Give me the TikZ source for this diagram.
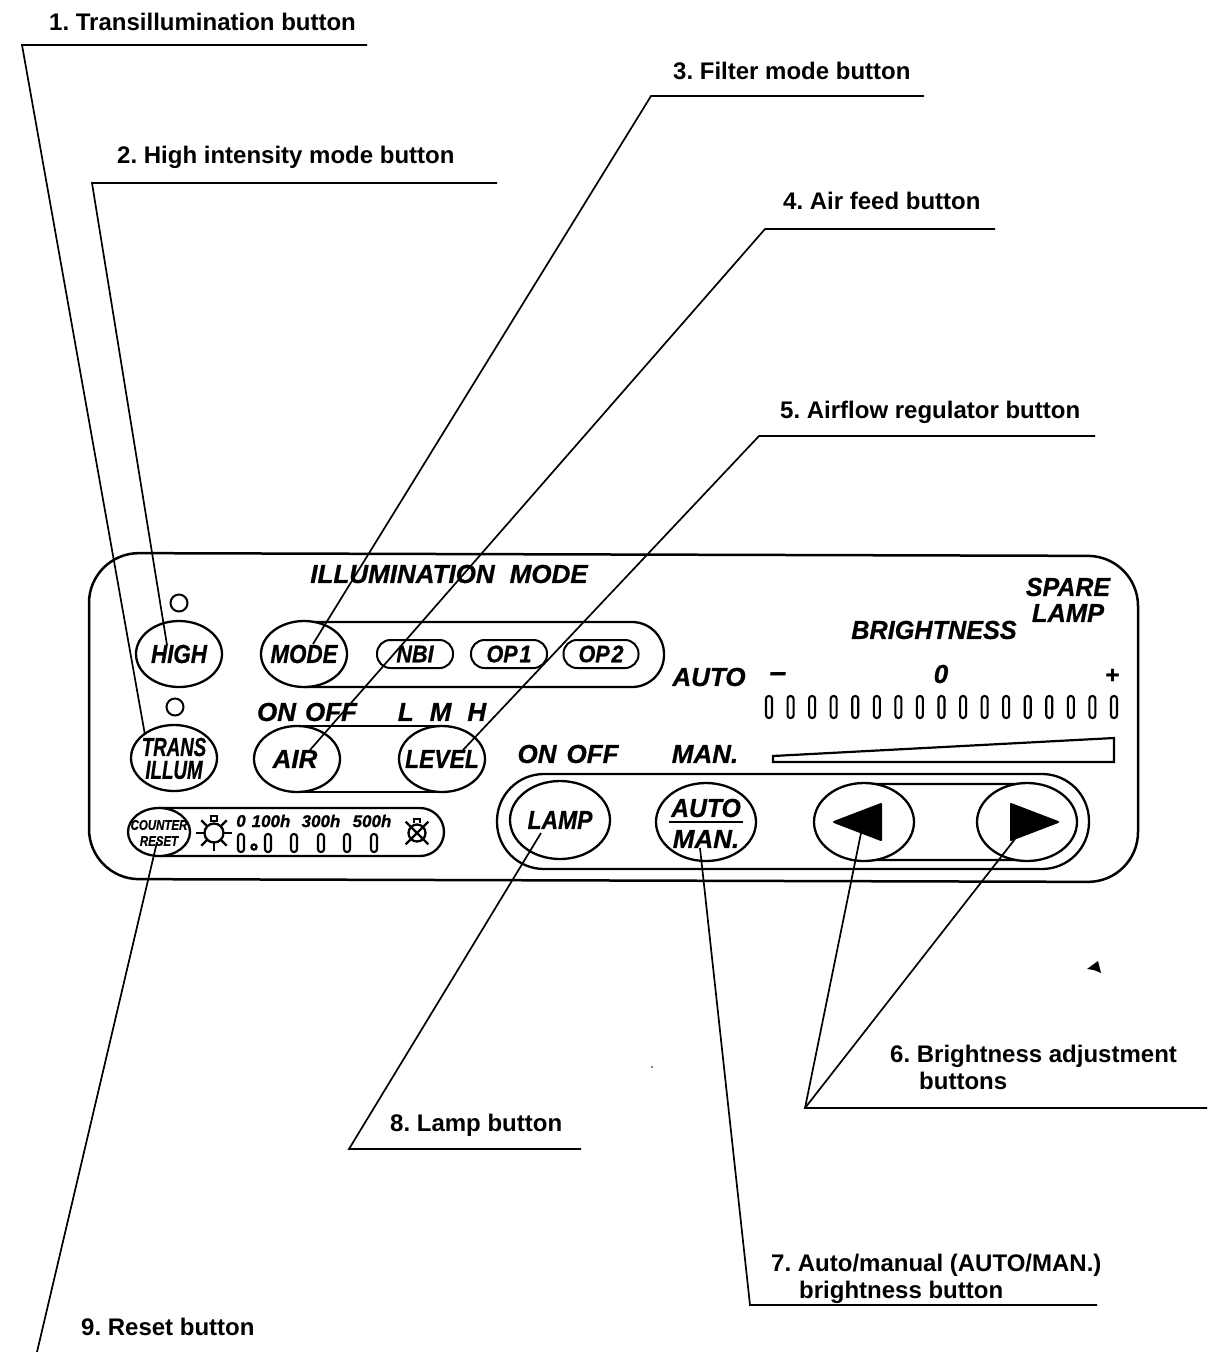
\documentclass[tikz,border=0pt]{standalone}
\usepackage{fontspec}
\usepackage{graphicx}
\setmainfont{Liberation Sans}
\newfontfamily\pnl[BoldItalicFeatures={FakeBold=0.7}]{Liberation Sans}
\frenchspacing
\usetikzlibrary{shapes.geometric,calc}
\newcommand{\fs}[1]{\fontsize{#1}{#1}\selectfont}
\tikzset{
  x=1pt,y=-1pt,
  lead/.style={draw=black,line width=1.7pt},
  outl/.style={draw=black,line width=2.5pt},
  callout/.style={font=\fontsize{24}{26.5}\selectfont\bfseries,inner sep=0pt,align=left},
  ptext/.style={font=\pnl\fs{26}\bfseries\itshape,inner sep=0pt},
  smalltext/.style={font=\pnl\fs{17}\bfseries\itshape,inner sep=0pt},
  btn/.style={ellipse,draw=black,line width=2.3pt,minimum width=86pt,minimum height=66pt,inner sep=0pt,fill=white},
  bigbtn/.style={ellipse,draw=black,line width=2.3pt,minimum width=100pt,minimum height=78pt,inner sep=0pt,fill=white},
  capsule/.style={draw=black,line width=2.3pt,rounded corners=#1},
  led/.style={circle,draw=black,line width=2pt,minimum size=17pt,inner sep=0pt},
  tag/.style={rectangle,draw=black,line width=2pt,rounded corners=13.5pt,minimum height=28pt,inner sep=0pt,font=\pnl\fs{24}\bfseries\itshape},
  bar/.style={draw=black,line width=2.1pt,rounded corners=2.8pt},
  arrowfill/.style={fill=black,draw=black,line width=2pt,line join=round},
  icon/.style={line width=2.3pt}
}
\begin{document}
\begin{tikzpicture}
\useasboundingbox[fill=white] (0,0) rectangle (1221,1352);
% panel
\draw[outl,rounded corners=50pt] (89,553) -- (1138,556) -- (1138,882) -- (89,879) -- cycle;
% capsules
\draw[capsule=32pt] (304,622) -- (664,622) -- (664,687) -- (304,687);
\draw[capsule=24pt] (159,808) -- (444,808) -- (444,856) -- (159,856);
\draw[capsule=47pt] (497,774) rectangle (1089,869);
\draw[capsule=2pt] (864,784) rectangle (1027,860);
\draw[line width=2.3pt] (297,726) -- (442,726) (297,792) -- (442,792);
% buttons
\node[btn] (high) at (179,654) {};
\node[btn] (mode) at (304,654) {};
\node[btn] (trans) at (174,758) {};
\node[btn] (air) at (297,759) {};
\node[btn] (level) at (442,759) {};
\node[ellipse,draw=black,line width=2.3pt,minimum width=62pt,minimum height=48pt,inner sep=0pt,fill=white] (counter) at (159,832) {};
\node[bigbtn] (lamp) at (560,820) {};
\node[bigbtn] (auto) at (706,822) {};
\node[bigbtn] (bl) at (864,822) {};
\node[bigbtn] (br) at (1027,822) {};
\node[ptext] (hight) at (high) {\scalebox{.86}[1]{HIGH}};
\node[ptext] (modet) at (mode) {\scalebox{.86}[1]{MODE}};
\node[ptext] (transt) at (174,747) {\scalebox{.72}[1]{TRANS}};
\node[ptext] (illumt) at (174,770) {\scalebox{.72}[1]{ILLUM}};
\node[ptext] (airt) at (295,759) {AIR};
\node[ptext] (levelt) at (level) {\scalebox{.88}[1]{LEVEL}};
\node[ptext,font=\pnl\fs{14}\bfseries\itshape] (countt) at (159,825) {\scalebox{.82}[1]{COUNTER}};
\node[ptext,font=\pnl\fs{14}\bfseries\itshape] (resett) at (159,841) {\scalebox{.82}[1]{RESET}};
\node[ptext] (lampt) at (lamp) {\scalebox{.88}[1]{LAMP}};
\node[ptext] (autot) at (706,808) {\scalebox{.95}[1]{AUTO}};
\node[ptext] (mant) at (706,839) {MAN.};
\draw[line width=2pt] (669,822) -- (743,822);
\draw[arrowfill] (834,822) -- (881,804) -- (881,840) -- cycle;
\draw[arrowfill] (1011,804) -- (1058,822) -- (1011,840) -- cycle;
% LEDs
\node[led] (led1) at (179,603) {};
\node[led] (led2) at (175,707) {};
% tags
\node[tag,minimum width=76pt] (nbi) at (415,654) {\scalebox{.9}[1]{NBI}};
\node[tag,minimum width=76pt] (op1) at (509,654) {\scalebox{.9}[1]{OP\hspace{2pt}1}};
\node[tag,minimum width=75pt] (op2) at (601,654) {\scalebox{.9}[1]{OP\hspace{2pt}2}};
% texts
\node[ptext] (illum) at (449,574) {ILLUMINATION\hspace{15pt}MODE};
\node[ptext] (spare) at (1068,587) {\scalebox{.96}[1]{SPARE}};
\node[ptext] (slamp) at (1068,613) {\scalebox{.98}[1]{LAMP}};
\node[ptext] (bright) at (934,630) {\scalebox{.97}[1]{BRIGHTNESS}};
\node[ptext] (autol) at (709,677) {AUTO};
\node[ptext,font=\pnl\fs{30}\bfseries\itshape] (minus) at (778,677) {\char"2013};
\node[ptext] (zero) at (941,674) {0};
\node[ptext,font=\pnl\fs{24}\bfseries\itshape] (plus) at (1112,676) {+};
\node[ptext] (onoff1) at (307,712) {ON\hspace{9pt}OFF};
\node[ptext] (lmh) at (442,712) {L\hspace{16pt}M\hspace{16pt}H};
\node[ptext] (onoff2) at (568,754) {ON\hspace{10pt}OFF};
\node[ptext] (man) at (705,754) {MAN.};
\node[smalltext] (h0) at (241,821) {0};
\node[smalltext] (h1) at (271,821) {100h};
\node[smalltext] (h3) at (321,821) {300h};
\node[smalltext] (h5) at (372,821) {500h};
% brightness bars
\foreach \i in {0,...,16} {
  \pgfmathsetmacro{\xx}{769+\i*21.56}
  \draw[bar] (\xx-3,696) rectangle (\xx+3,718);
}
% wedge
\draw[line width=2.2pt,line join=miter] (773,756) -- (1114,738) -- (1114,762) -- (773,762) -- cycle;
% counter bars
\foreach \xx in {241,268,294,321,347,374} {
  \draw[bar] (\xx-3,834) rectangle (\xx+3,852);
}
\draw[line width=2.2pt] (254,847) circle (2.6pt);
% sun icon
\coordinate (sun) at (214,833);
\draw[icon] (sun) circle (9.5pt);
\foreach \a in {0,45,135,180,225,270,315} {
  \draw[icon] ($(sun)+(\a:10pt)$) -- ($(sun)+(\a:18pt)$);
}
\draw[line width=1.6pt] (211,816) rectangle (217,821);
% crossed lamp icon
\coordinate (off) at (417,833);
\draw[icon] (off) circle (8.5pt);
\foreach \a in {45,135,225,315} {
  \draw[icon] (off) -- ($(off)+(\a:16pt)$);
}
\draw[line width=1.6pt] (414,823) -- (414,819) -- (420,819) -- (420,823);
% connector anchors
\coordinate (p1a) at (367,45); \coordinate (p1b) at (22,45);  \coordinate (p1c) at (145,735);
\coordinate (p2a) at (497,183); \coordinate (p2b) at (92,183); \coordinate (p2c) at (167,645);
\coordinate (p3a) at (924,96); \coordinate (p3b) at (651,96); \coordinate (p3c) at (313,644);
\coordinate (p4a) at (995,229); \coordinate (p4b) at (765,229); \coordinate (p4c) at (310,750);
\coordinate (p5a) at (1095,436); \coordinate (p5b) at (759,436); \coordinate (p5c) at (463,750);
\coordinate (p6a) at (1207,1108); \coordinate (p6b) at (805,1108); \coordinate (p6c) at (861,833); \coordinate (p6d) at (1015,839);
\coordinate (p7a) at (1097,1305); \coordinate (p7b) at (750,1305); \coordinate (p7c) at (700,848);
\coordinate (p8a) at (581,1149); \coordinate (p8b) at (349,1149); \coordinate (p8c) at (541,833);
\coordinate (p9b) at (37,1352); \coordinate (p9c) at (157,842);
\draw[lead] (p1a) -- (p1b) -- (p1c);
\draw[lead] (p2a) -- (p2b) -- (p2c);
\draw[lead] (p3a) -- (p3b) -- (p3c);
\draw[lead] (p4a) -- (p4b) -- (p4c);
\draw[lead] (p5a) -- (p5b) -- (p5c);
\draw[lead] (p6a) -- (p6b) -- (p6c);
\draw[lead] (p6b) -- (p6d);
\draw[lead] (p7a) -- (p7b) -- (p7c);
\draw[lead] (p8a) -- (p8b) -- (p8c);
\draw[lead] (p9b) -- (p9c);
% callouts
\node[callout,anchor=west] (c1) at (49,22) {1. Transillumination button};
\node[callout,anchor=west] (c2) at (117,157) {2. High intensity mode button};
\node[callout,anchor=west] (c3) at (673,71) {3. Filter mode button};
\node[callout,anchor=west] (c4) at (783,201) {4. Air feed button};
\node[callout,anchor=west] (c5) at (780,412) {5. Airflow regulator button};
\node[callout,anchor=north west] (c6) at (890,1045) {6. Brightness adjustment\\\hspace{29pt}buttons};
\node[callout,anchor=north west] (c7) at (771,1254) {7. Auto/manual (AUTO/MAN.)\\\hspace{28pt}brightness button};
\node[callout,anchor=west] (c8) at (390,1125) {8. Lamp button};
\node[callout,anchor=west] (c9) at (81,1327) {9. Reset button};
% speck
\fill (1087,969) -- (1098,961) -- (1101,973) -- (1094,970) -- cycle;
\fill (652,1067) circle (0.9pt);
\end{tikzpicture}
\end{document}
